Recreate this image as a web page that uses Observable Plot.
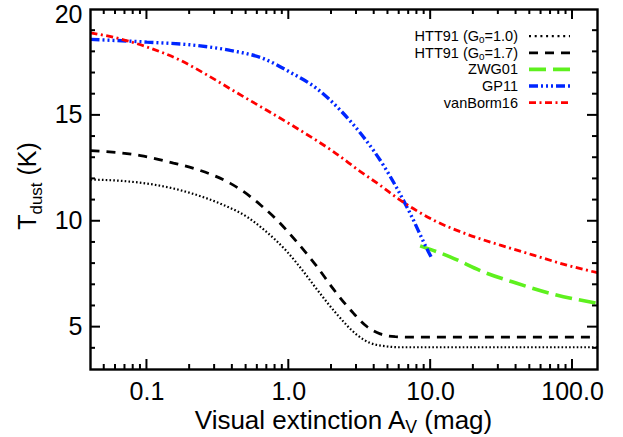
<!DOCTYPE html>
<html>
<head>
<meta charset="utf-8">
<script src="https://cdn.jsdelivr.net/npm/d3@7"></script>
<script src="https://cdn.jsdelivr.net/npm/@observablehq/plot@0.6"></script>
<style>
  html, body { margin: 0; padding: 0; background: #fff; }
  #chart svg { display: block; font-family: "Liberation Sans", Arial, Helvetica, sans-serif; }
</style>
</head>
<body>
<div id="chart"></div>
<script>
// Dust temperature as a function of visual extinction for several models.

// HTT91, G0 = 1.0
const avHTT10 = [0.04, 0.0682, 0.1166, 0.201, 0.346, 0.51, 0.66, 0.97, 1.27, 1.58, 2.19, 3.03, 3.75, 4.92, 6.1, 20, 150];
const tHTT10  = [11.97, 11.90, 11.71, 11.34, 10.77, 10.20, 9.63, 8.57, 7.62, 6.78, 5.60, 4.63, 4.25, 4.09, 4.05, 4.05, 4.05];

// HTT91, G0 = 1.7
const avHTT17 = [0.04, 0.0901, 0.1537, 0.237, 0.387, 0.468, 0.632, 0.826, 1.14, 1.58, 2.07, 2.86, 3.55, 4.41, 5.62, 7.17, 20, 150];
const tHTT17  = [13.34, 13.10, 12.75, 12.40, 11.79, 11.45, 10.77, 10.06, 9.02, 7.86, 6.78, 5.65, 5.03, 4.68, 4.55, 4.53, 4.53, 4.53];

// ZWG01
const avZWG = [8.43, 13.7, 23.5, 40.5, 69.4, 150];
const tZWG  = [8.84, 8.32, 7.61, 7.07, 6.60, 6.12];

// GP11
const avGP = [0.04, 0.1, 0.225, 0.387, 0.664, 1.02, 1.58, 2.31, 3.36, 4.65, 5.78, 7.17, 9.64, 10.2];
const tGP  = [18.59, 18.46, 18.30, 18.07, 17.68, 17.04, 16.26, 15.24, 13.98, 12.64, 11.56, 10.37, 8.56, 8.25];

// vanBorm16
const avVB = [0.04, 0.058, 0.1, 0.172, 0.262, 0.408, 0.70, 1.2, 2.07, 3.18, 4.4, 6.1, 10.5, 18, 31, 53, 91, 150];
const tVB  = [18.90, 18.69, 18.23, 17.60, 16.93, 16.16, 15.24, 14.30, 13.28, 12.36, 11.70, 11.0, 10.05, 9.39, 8.87, 8.40, 7.93, 7.57];

// Legend labels (the "_" marks a one-character subscript)
const seriesLabels = ["HTT91 (G_0=1.0)", "HTT91 (G_0=1.7)", "ZWG01", "GP11", "vanBorm16"];
const seriesColors = ["#000000", "#000000", "#5ef01e", "#0026ff", "#ff0000"];

// Axis ticks and titles
const xMajor = [0.1, 1, 10, 100];
const yMajor = [5, 10, 15, 20];
const xTitle = "Visual extinction A_V (mag)";
const yTitle = "T_{dust} (K)";

// Layout
const W = 623, H = 437;
const mL = 90, mR = 26, mT = 9, mB = 68;
const PW = W - mL - mR, PH = H - mT - mB;
const [xLo, xHi] = [0.04, 150];
const [yLo, yHi] = [3, 20];

// Line styles per series
const styles = [
  {width: 2.2, dash: "1.6,2.2", legendDash: "2,3.7"},
  {width: 2.8, dash: "9,7", legendDash: "9,7"},
  {width: 3.6, dash: "17,7", legendDash: "17,7"},
  {width: 3.4, dash: "9,3,2,3,2,3,2,3", legendDash: "9,3,2,3,2,3,2,3"},
  {width: 2.8, dash: "7,3.5,2,3.5", legendDash: "7,3.5,2,3.5"}
];

const series = [
  [avHTT10, tHTT10],
  [avHTT17, tHTT17],
  [avZWG, tZWG],
  [avGP, tGP],
  [avVB, tVB]
];

const toRows = (av, t) => av.map((a, i) => ({av: a, t: t[i]}));

// Minor ticks: 2..9 within each decade, and every integer kelvin
const xMinor = [0.01, 0.1, 1, 10, 100]
  .flatMap(d => [2, 3, 4, 5, 6, 7, 8, 9].map(k => +(k * d).toPrecision(3)))
  .filter(v => v > xLo && v < xHi);
const yMinor = d3.range(4, 20).filter(v => !yMajor.includes(v));

const marks = [
  // tick labels
  Plot.axisX({ticks: xMajor, tickSize: 0, tickPadding: 13, tickFormat: d => d.toFixed(1),
              fontSize: 25, label: null}),
  Plot.axisY({ticks: yMajor.filter(v => v < 20), tickSize: 0, tickPadding: 8,
              fontSize: 25, label: null}),
  Plot.axisY({ticks: [20], tickSize: 0, tickPadding: 8, dy: 5,
              fontSize: 25, label: null}),

  // model curves
  ...series.map(([av, t], i) => Plot.line(toRows(av, t), {
    x: "av", y: "t",
    stroke: seriesColors[i],
    strokeWidth: styles[i].width,
    strokeDasharray: styles[i].dash,
    strokeLinecap: "butt",
    strokeLinejoin: "miter",
    curve: "monotone-x"
  })),

  Plot.frame({stroke: "black", strokeWidth: 2.4})
];

const chart = Plot.plot({
  width: W,
  height: H,
  marginLeft: mL,
  marginRight: mR,
  marginTop: mT,
  marginBottom: mB,
  style: {fontFamily: "'Liberation Sans', Arial, Helvetica, sans-serif", fontSize: "25px", color: "black", background: "white"},
  x: {type: "log", domain: [xLo, xHi]},
  y: {domain: [yLo, yHi]},
  marks
});

document.getElementById("chart").appendChild(chart);

const svg = d3.select(chart);

// Inward ticks on all four sides, positioned with the plot's scale definitions
const sx = chart.scale("x"), sy = chart.scale("y");
const px = d3.scaleLog(sx.domain, sx.range);
const py = d3.scaleLinear(sy.domain, sy.range);
const x0 = px(xLo), x1 = px(xHi), y0 = py(yLo), y1 = py(yHi);
const tickG = svg.append("g");
function tick(xa, ya, xb, yb) {
  tickG.append("line")
    .attr("x1", xa).attr("y1", ya).attr("x2", xb).attr("y2", yb)
    .attr("stroke", "#000").attr("stroke-width", 2);
}
function xTicks(values, len) {
  values.forEach(v => {
    const x = px(v);
    tick(x, y0, x, y0 - len);
    tick(x, y1, x, y1 + len);
  });
}
function yTicks(values, len) {
  values.forEach(v => {
    const y = py(v);
    tick(x0, y, x0 + len, y);
    tick(x1, y, x1 - len, y);
  });
}
xTicks(xMajor, 10);
xTicks(xMinor, 5);
yTicks(yMajor.filter(v => v < yHi), 10);
yTicks(yMinor, 5);

// Text with one-character ("_x") or braced ("_{xyz}") subscripts as tspans
function richText(sel, str, size, shift) {
  const parts = str.split(/_\{([^}]*)\}|_(.)/);
  let lowered = false;
  parts.forEach((p, i) => {
    if (p === undefined || p === "") return;
    const isSub = (i % 3) !== 0;
    const ts = sel.append("tspan").text(p);
    if (isSub) {
      ts.attr("font-size", size * 0.68).attr("dy", lowered ? 0 : shift);
      lowered = true;
    } else {
      ts.attr("font-size", size);
      if (lowered) { ts.attr("dy", -shift); lowered = false; }
    }
  });
}

// Axis titles
const xt = svg.append("text")
  .attr("x", mL + PW / 2)
  .attr("y", 429)
  .attr("text-anchor", "middle")
  .attr("fill", "black");
richText(xt, xTitle, 26, 3.5);

const yt = svg.append("text")
  .attr("transform", `translate(36,${mT + PH / 2 - 3}) rotate(-90)`)
  .attr("text-anchor", "middle")
  .attr("fill", "black");
richText(yt, yTitle, 25, 6);

// Legend, top right inside the frame
const legend = svg.append("g");
const legY0 = 36.2, legDY = 16.6;
seriesLabels.forEach((label, i) => {
  const y = legY0 + i * legDY;
  const t = legend.append("text")
    .attr("x", 518)
    .attr("y", y + 5)
    .attr("text-anchor", "end")
    .attr("fill", "black");
  richText(t, label, 14.5, 2);
  legend.append("line")
    .attr("x1", 529).attr("x2", 570)
    .attr("y1", y).attr("y2", y)
    .attr("stroke", seriesColors[i])
    .attr("stroke-width", styles[i].width)
    .attr("stroke-dasharray", styles[i].legendDash);
});
</script>
</body>
</html>
